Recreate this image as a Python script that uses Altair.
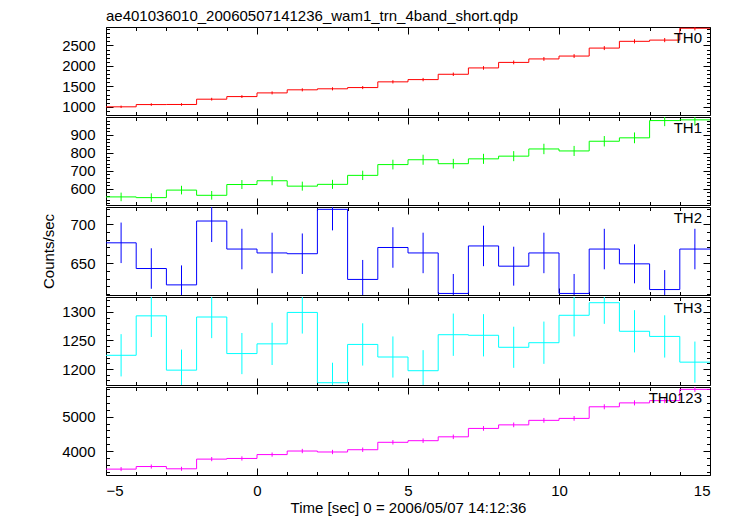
import altair as alt
import pandas as pd

FONT = "Liberation Sans"

bin_start = [-5, -4, -3, -2, -1, 0, 1, 2, 3, 4, 5, 6, 7, 8, 9, 10, 11, 12, 13, 14]
bin_end = 15

names = ["TH0", "TH1", "TH2", "TH3", "TH0123"]
colors = ["#ff0000", "#00ff00", "#0000ff", "#00ffff", "#ff00ff"]

th0 = [1000, 1055, 1057, 1186, 1250, 1340, 1415, 1440, 1470, 1610,
       1665, 1795, 1950, 2085, 2170, 2240, 2435, 2600, 2630, 2920]
th0_err = [30, 32, 32, 34, 35, 37, 38, 38, 38, 40,
           41, 42, 44, 46, 47, 47, 49, 51, 51, 54]

th1 = [555, 551, 593, 564, 624, 645, 615, 625, 675, 735,
       762, 740, 767, 782, 822, 811, 865, 884, 980, 984]
th1_err = [24, 24, 24, 24, 25, 25, 25, 25, 26, 27,
           28, 27, 28, 28, 29, 28, 29, 30, 31, 31]

th2 = [676, 643, 622, 704, 668, 663, 662, 719, 629, 670,
       663, 611, 672, 646, 663, 611, 668, 649, 616, 668]
th2_err = [26, 26, 25, 27, 26, 26, 26, 27, 25, 26,
           26, 25, 26, 25, 26, 25, 26, 25, 25, 26]

th3 = [1224, 1293, 1198, 1291, 1227, 1244, 1299, 1176, 1243, 1221,
       1197, 1260, 1259, 1238, 1246, 1294, 1316, 1266, 1257, 1212]
th3_err = [37, 37, 36, 37, 36, 37, 37, 35, 37, 36,
           36, 37, 37, 36, 37, 37, 37, 37, 37, 36]

th0123 = [3472, 3547, 3481, 3764, 3783, 3896, 4000, 3972, 4038, 4255,
          4302, 4415, 4660, 4764, 4896, 4953, 5292, 5406, 5472, 5802]
th0123_err = [59, 60, 59, 61, 62, 62, 63, 63, 64, 65,
              66, 66, 68, 69, 70, 70, 73, 74, 74, 76]

series = [th0, th1, th2, th3, th0123]
errors = [th0_err, th1_err, th2_err, th3_err, th0123_err]

y_domains = [[800, 2950], [510, 1000], [609, 722], [1172, 1326], [3300, 5870]]
y_major = [[1000, 1500, 2000, 2500], [600, 700, 800, 900], [650, 700],
           [1200, 1250, 1300], [4000, 5000]]
y_minor_step = [100, 20, 10, 10, 200]

x_major = [-5, 0, 5, 10, 15]
x_minor = [v for v in range(-5, 16) if v not in x_major]

title_text = "ae401036010_20060507141236_wam1_trn_4band_short.qdp"
x_title = "Time [sec] 0 = 2006/05/07 14:12:36"
y_title = "Counts/sec"

W, H = 604, 88
MAJ, MIN = 7, 3.5


def ax(orient, values, size, **kw):
    opts = dict(orient=orient, values=values,
                tickSize=alt.ExprRef(expr=str(-size)),
                domain=False, grid=False, ticks=True,
                tickColor="black", tickWidth=1)
    if "labels" not in kw:
        opts["labels"] = False
    if "title" not in kw:
        opts["title"] = None
    opts.update(kw)
    return alt.Axis(**opts)


panels = []
for i, name in enumerate(names):
    vals = series[i]
    errs = errors[i]
    col = colors[i]
    lo_d, hi_d = y_domains[i]
    step = y_minor_step[i]
    start = (lo_d // step + 1) * step
    y_min = [v for v in range(int(start), int(hi_d) + 1, step) if v not in y_major[i]]

    line_df = pd.DataFrame({"t": bin_start + [bin_end], "v": vals + [vals[-1]]})
    err_df = pd.DataFrame({
        "t": [s + 0.5 for s in bin_start],
        "lo": [v - e for v, e in zip(vals, errs)],
        "hi": [v + e for v, e in zip(vals, errs)],
    })

    xs = alt.Scale(domain=[-5, 15], nice=False, zero=False)
    ys = alt.Scale(domain=[lo_d, hi_d], nice=False, zero=False)

    last = i == len(names) - 1
    if last:
        bottom_major = ax("bottom", x_major, MAJ, labels=True, labelPadding=15,
                          format="d", title=x_title, titlePadding=2)
    else:
        bottom_major = ax("bottom", x_major, MAJ)
    if name == "TH2":
        left_major = ax("left", y_major[i], MAJ, labels=True, labelPadding=18,
                        format="d",
                        title=y_title, titleX=-58, titleY=H / 2, titleAngle=270,
                        titleAlign="center", titleBaseline="middle")
    else:
        left_major = ax("left", y_major[i], MAJ, labels=True, labelPadding=18,
                        format="d")

    l1 = alt.Chart(line_df).mark_line(
        interpolate="step-after", color=col, strokeWidth=1, clip=True
    ).encode(
        x=alt.X("t:Q", scale=xs, axis=bottom_major),
        y=alt.Y("v:Q", scale=ys, axis=left_major),
    )
    l2 = alt.Chart(err_df).mark_rule(color=col, strokeWidth=1, clip=True).encode(
        x=alt.X("t:Q", scale=xs, axis=ax("top", x_major, MAJ)),
        y=alt.Y("lo:Q", scale=ys, axis=ax("right", y_major[i], MAJ)),
        y2="hi:Q",
    )
    l3 = alt.Chart(line_df).mark_point(opacity=0, size=1, clip=True).encode(
        x=alt.X("t:Q", scale=xs, axis=ax("bottom", x_minor, MIN)),
        y=alt.Y("v:Q", scale=ys, axis=ax("left", y_min, MIN)),
    )
    l4 = alt.Chart(line_df).mark_point(opacity=0, size=1, clip=True).encode(
        x=alt.X("t:Q", scale=xs, axis=ax("top", x_minor, MIN)),
        y=alt.Y("v:Q", scale=ys, axis=ax("right", y_min, MIN)),
    )
    l5 = alt.Chart(pd.DataFrame({"label": [name]})).mark_text(
        align="right", baseline="alphabetic", fontSize=15, font=FONT, color="black"
    ).encode(x=alt.value(W - 8), y=alt.value(16), text="label:N")

    layer = alt.layer(l1, l2, l3, l4, l5).resolve_axis(
        x="independent", y="independent"
    ).properties(width=W, height=H)
    if i == 0:
        layer = layer.properties(title=alt.TitleParams(
            text=title_text, anchor="start", frame="group", fontSize=15,
            font=FONT, fontWeight="normal", color="black", offset=3))
    panels.append(layer)

chart = alt.vconcat(*panels, spacing=0).configure_view(
    stroke="black", strokeWidth=1
).configure_axis(
    labelFont=FONT, labelFontSize=15, labelColor="black",
    titleFont=FONT, titleFontSize=15, titleColor="black", titleFontWeight="normal",
).properties(padding={"left": 32, "top": 0, "right": 5, "bottom": 0})

chart.save("out.html", embed_options={"renderer": "svg", "actions": False})
